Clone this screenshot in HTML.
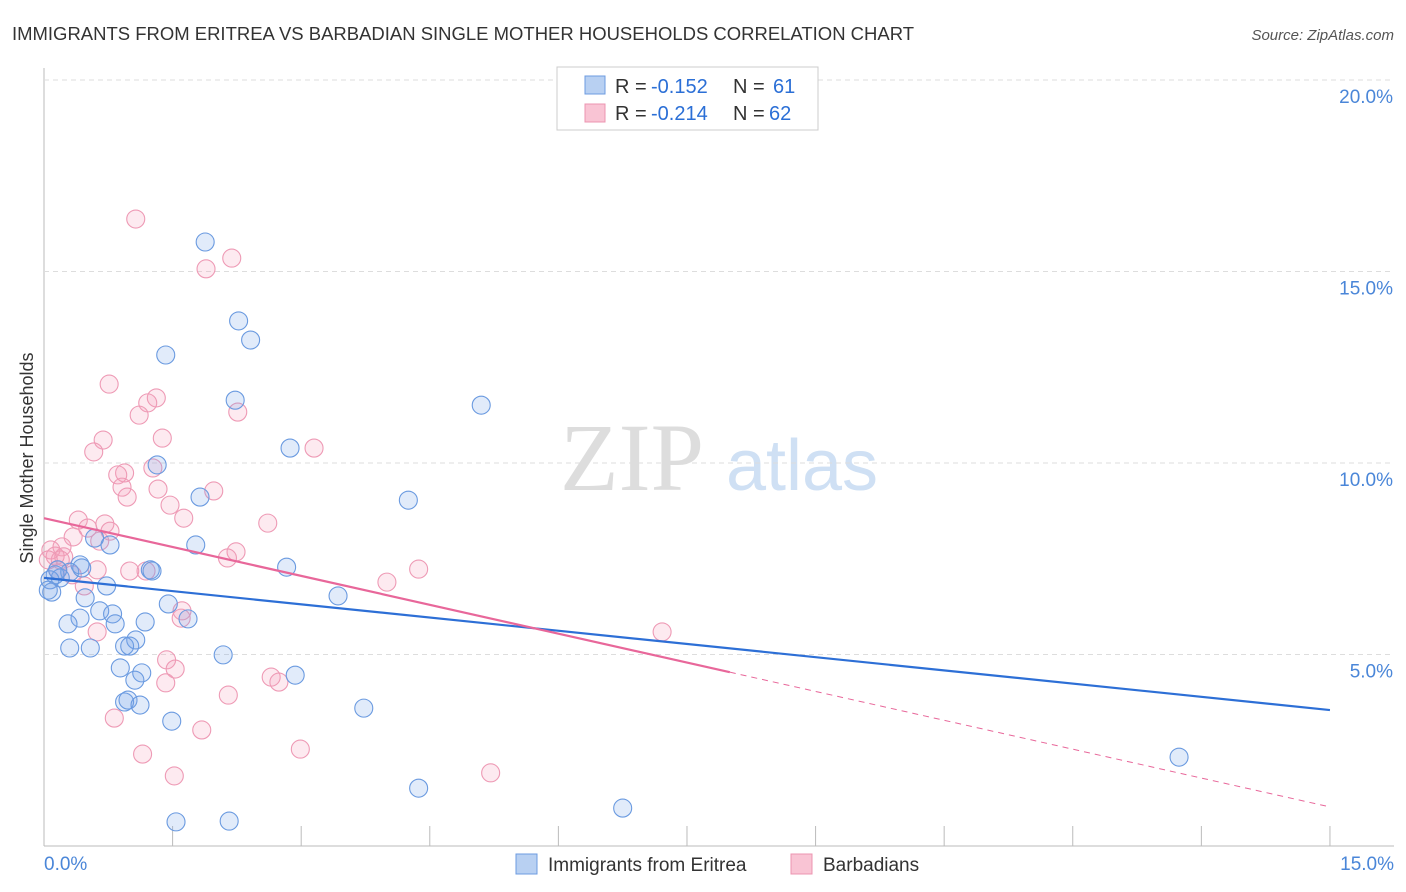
<!DOCTYPE html>
<html><head><meta charset="utf-8"><style>
body{margin:0;background:#fff;font-family:"Liberation Sans",sans-serif}
svg{display:block}
</style></head><body>
<svg id="c" width="1406" height="892">
<text x="12" y="40" font-size="18" fill="#333" textLength="902" lengthAdjust="spacingAndGlyphs">IMMIGRANTS FROM ERITREA VS BARBADIAN SINGLE MOTHER HOUSEHOLDS CORRELATION CHART</text>
<text x="1394" y="40" font-size="15" fill="#555" font-style="italic" text-anchor="end">Source: ZipAtlas.com</text>
<text x="33" y="458" font-size="18" fill="#333" text-anchor="middle" transform="rotate(-90 33 458)">Single Mother Households</text>
<g><text x="632" y="490" font-size="96" font-family="Liberation Serif,serif" fill="#ddd" text-anchor="middle">ZIP</text><text x="802" y="490" font-size="72" fill="#cfe0f4" text-anchor="middle">atlas</text></g>
<g id="grid"></g><g id="marks"></g><g id="lines"></g>
<g>
<rect x="557" y="67" width="261" height="63" fill="#fff" stroke="#ccc"/>
<rect x="585" y="76" width="20" height="18" fill="#b8d0f2" stroke="#6d9be0"/>
<rect x="585" y="104" width="20" height="18" fill="#f9c4d4" stroke="#ec94b0"/>
<text x="615" y="93" font-size="20" fill="#333">R =</text><text x="651" y="93" font-size="20" fill="#2b6fd6">-0.152</text><text x="733" y="93" font-size="20" fill="#333">N =</text><text x="773" y="93" font-size="20" fill="#2b6fd6">61</text>
<text x="615" y="120" font-size="20" fill="#333">R =</text><text x="651" y="120" font-size="20" fill="#2b6fd6">-0.214</text><text x="733" y="120" font-size="20" fill="#333">N =</text><text x="769" y="120" font-size="20" fill="#2b6fd6">62</text>
</g>
<g>
<rect x="516" y="854" width="21" height="20" fill="#b8d0f2" stroke="#6d9be0"/>
<text x="548" y="871" font-size="19" fill="#333">Immigrants from Eritrea</text>
<rect x="791" y="854" width="21" height="20" fill="#f9c4d4" stroke="#ec94b0"/>
<text x="823" y="871" font-size="19" fill="#333">Barbadians</text>
</g>
</svg>
<script>
const xTicks=[0,1.5,3,4.5,6,7.5,9,10.5,12,13.5,15];
const yTicks=[5,10,15,20];
const blueX=[1.88,2.27,2.41,1.42,2.23,5.10,2.87,1.32,4.25,1.82,1.77,0.77,0.59,0.42,1.24,1.26,2.83,0.13,0.19,0.07,0.30,0.73,0.09,0.48,3.43,1.45,0.65,0.80,1.68,1.18,0.42,0.28,0.83,1.07,0.94,1.00,0.30,0.54,2.09,0.89,1.14,2.93,1.06,0.94,0.98,1.12,3.73,1.49,13.24,4.37,6.75,1.54,2.16,0.05,0.16,0.44];
const blueY=[15.77,13.71,13.21,12.82,11.64,11.51,10.39,9.95,9.03,9.11,7.86,7.86,8.04,7.34,7.21,7.18,7.28,7.08,7.00,6.95,7.15,6.79,6.63,6.48,6.53,6.32,6.14,6.06,5.93,5.85,5.95,5.80,5.80,5.38,5.22,5.22,5.17,5.17,4.99,4.65,4.52,4.46,4.33,3.76,3.81,3.68,3.60,3.26,2.32,1.51,0.99,0.63,0.65,6.68,7.21,7.26];
const pinkX=[1.07,2.19,1.89,0.76,1.31,1.21,1.11,2.26,1.38,0.69,0.58,3.15,0.94,0.86,1.27,0.91,1.33,0.97,1.98,1.47,1.63,0.40,2.61,0.71,0.51,0.77,0.34,0.65,0.21,0.08,2.24,0.23,2.14,0.13,0.19,0.05,0.62,1.00,1.19,0.33,4.37,4.00,0.47,1.61,1.60,0.62,7.21,1.43,1.53,1.42,2.65,2.74,2.15,0.82,1.84,2.99,1.15,1.52,5.21,0.16];
const pinkY=[16.37,15.35,15.07,12.06,11.70,11.57,11.25,11.33,10.65,10.60,10.29,10.39,9.74,9.69,9.87,9.37,9.32,9.11,9.27,8.90,8.56,8.51,8.43,8.41,8.30,8.22,8.07,7.96,7.81,7.73,7.68,7.55,7.52,7.57,7.47,7.47,7.21,7.18,7.18,7.08,7.23,6.89,6.79,6.14,5.95,5.59,5.59,4.86,4.62,4.26,4.41,4.28,3.94,3.34,3.03,2.53,2.40,1.83,1.91,7.21];
const blueLine=[7.0,3.55];
const pinkLine=[8.56,1.02];
const pinkSolidEnd=8.0;
const X=v=>44+v*85.73, Y=v=>846-v*38.3;
const NS='http://www.w3.org/2000/svg';
function mk(t,a,p){const e=document.createElementNS(NS,t);for(const k in a)e.setAttribute(k,a[k]);p.appendChild(e);return e;}
const g=document.getElementById('grid');
let ax=mk('line',{x1:44,y1:68,x2:44,y2:846,stroke:'#bbb'},g);


let bx=mk('line',{x1:44,y1:846,x2:1394,y2:846,stroke:'#bbb'},g);


yTicks.forEach(v=>{
 let l=mk('line',{x1:44,y1:Y(v),x2:1394,y2:Y(v),stroke:'#ddd','stroke-dasharray':'5,4'},g);
 
 
 let t=mk('text',{x:1393,y:Y(v)+23,'font-size':19,fill:'#4a86d8','text-anchor':'end'},g);t.textContent=v.toFixed(1)+'%';
 
 
});
xTicks.forEach(v=>{
 let l=mk('line',{x1:X(v),y1:826,x2:X(v),y2:846,stroke:'#bbb'},g);
 
 
});
[[0,'start',44],[15,'end',1394]].forEach(([v,a,x])=>{
 let t=mk('text',{x:x,y:870,'font-size':19,fill:'#4a86d8','text-anchor':a},g);t.textContent=v.toFixed(1)+'%';
 
 
});
const m=document.getElementById('marks');
pinkX.forEach((v,i)=>{let c=mk('circle',{cx:X(v),cy:Y(pinkY[i]),r:9,fill:'rgba(244,160,188,0.22)',stroke:'#ee9ab5','stroke-width':1.1},m);
 
 });
blueX.forEach((v,i)=>{let c=mk('circle',{cx:X(v),cy:Y(blueY[i]),r:9,fill:'rgba(120,165,230,0.22)',stroke:'#6a9ae0','stroke-width':1.1},m);
 
 });
const L=document.getElementById('lines');
let bl=mk('line',{x1:X(0),y1:Y(blueLine[0]),x2:X(15),y2:Y(blueLine[1]),stroke:'#2d6fd6','stroke-width':2.2},L);


const py=x=>pinkLine[0]+(pinkLine[1]-pinkLine[0])*x/15;
let pl=mk('line',{x1:X(0),y1:Y(py(0)),x2:X(pinkSolidEnd),y2:Y(py(pinkSolidEnd)),stroke:'#e8679a','stroke-width':2.2},L);


let pd=mk('line',{x1:X(pinkSolidEnd),y1:Y(py(pinkSolidEnd)),x2:X(15),y2:Y(py(15)),stroke:'#e8679a','stroke-width':1,'stroke-dasharray':'6,5'},L);


</script>
</body></html>
